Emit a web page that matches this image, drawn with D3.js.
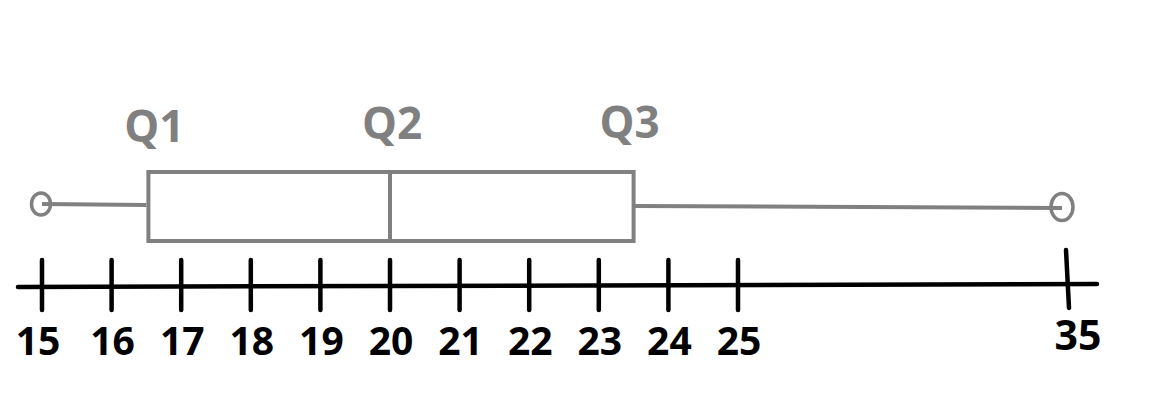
<!DOCTYPE html>
<html><head><meta charset="utf-8">
<script src="https://cdn.jsdelivr.net/npm/d3@7"></script>
<style>html,body{margin:0;padding:0;background:#fff;}</style>
</head><body>
<svg id="c" width="1152" height="402"></svg>
<script>
const tickValues = [15,16,17,18,19,20,21,22,23,24,25,35];
const tickLabels = ["15","16","17","18","19","20","21","22","23","24","25","35"];
const boxStats = {min:15, q1:16.5, median:20, q3:23.5, max:35};
const quartileLabels = ["Q1","Q2","Q3"];
const quartileValues = [16.5, 20, 23.5];

const svg = d3.select("#c");
const x = d3.scaleLinear().domain([15,25,35]).range([42,738,1066]);
const gray = "#808080";

// axis line
svg.append("line").attr("x1",18).attr("x2",1097).attr("y1",287).attr("y2",284)
  .attr("stroke","#000").attr("stroke-width",4.5).attr("stroke-linecap","round");
// ticks
svg.selectAll("line.tick").data(tickValues).join("line").attr("class","tick")
  .attr("x1",d=>x(d)).attr("x2",d=>x(d)+(d===35?3:0))
  .attr("y1",d=>d===35?250:260).attr("y2",d=>d===35?308:310)
  .attr("stroke","#000").attr("stroke-width",4.5).attr("stroke-linecap","round");
svg.selectAll("text.tl").data(tickValues).join("text").attr("class","tl")
  .attr("x",d=>x(d)+(d===35?12:(d===15?-4:1))).attr("y",d=>d===35?350:355)
  .attr("text-anchor","middle").attr("font-family","Open Sans, sans-serif")
  .attr("font-weight","bold").attr("font-size",d=>d===35?41:39).attr("fill","#000")
  .text((d,i)=>tickLabels[i]);

const yTop=172, yBot=241;
// whiskers
svg.append("line").attr("x1",x(boxStats.min)).attr("x2",x(boxStats.q1)).attr("y1",204).attr("y2",205)
  .attr("stroke",gray).attr("stroke-width",4);
svg.append("line").attr("x1",x(boxStats.q3)).attr("x2",x(boxStats.max)-4).attr("y1",206).attr("y2",208)
  .attr("stroke",gray).attr("stroke-width",4);
// box
svg.append("rect").attr("x",x(boxStats.q1)+2).attr("y",yTop).attr("width",x(boxStats.q3)-x(boxStats.q1)-2).attr("height",yBot-yTop)
  .attr("fill","none").attr("stroke",gray).attr("stroke-width",4);
svg.append("line").attr("x1",x(boxStats.median)).attr("x2",x(boxStats.median)).attr("y1",yTop-2).attr("y2",yBot)
  .attr("stroke",gray).attr("stroke-width",4);
// end circles
svg.append("ellipse").attr("cx",x(boxStats.min)-1).attr("cy",204).attr("rx",9.5).attr("ry",11)
  .attr("fill","none").attr("stroke",gray).attr("stroke-width",3.5);
svg.append("ellipse").attr("cx",x(boxStats.max)-4).attr("cy",207).attr("rx",11).attr("ry",13.5)
  .attr("fill","none").attr("stroke",gray).attr("stroke-width",3.5);
// quartile labels
svg.selectAll("text.q").data(quartileValues).join("text").attr("class","q")
  .attr("x",(d,i)=>x(d)+[8,2,-4][i]).attr("y",(d,i)=>[142,139,138][i])
  .attr("text-anchor","middle").attr("font-family","Open Sans, sans-serif")
  .attr("font-weight","bold").attr("font-size",44).attr("fill",gray)
  .text((d,i)=>quartileLabels[i]);
</script>
</body></html>
